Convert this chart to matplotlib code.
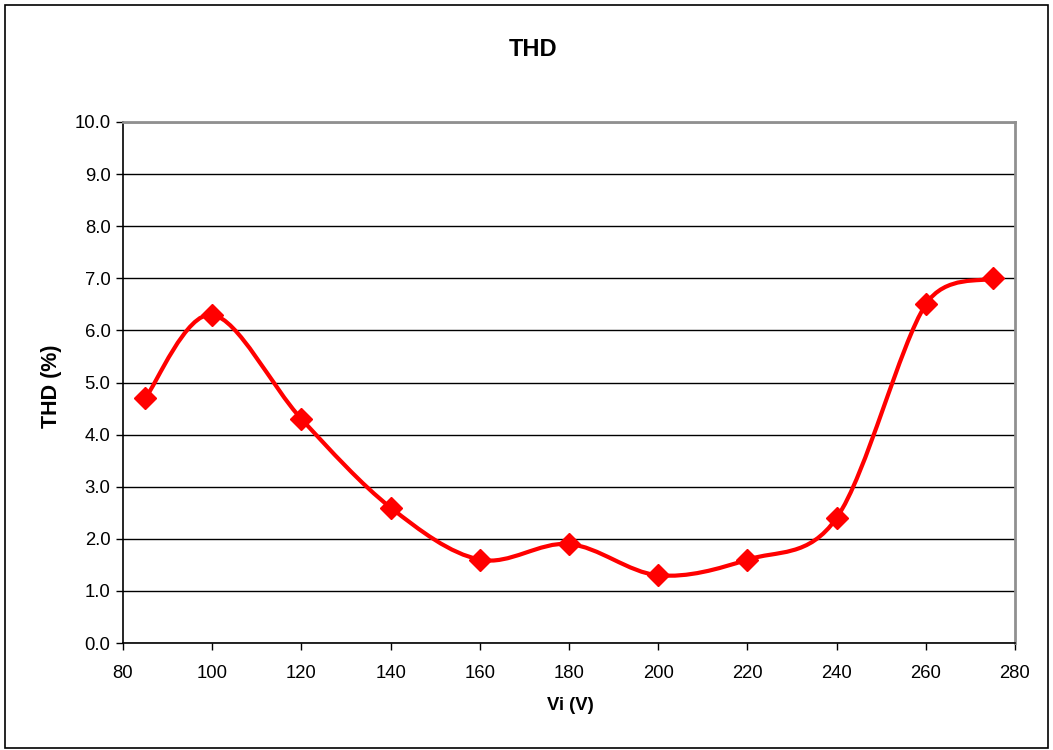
import numpy as np
import matplotlib.pyplot as plt
from matplotlib.path import Path
from matplotlib.patches import PathPatch, Rectangle

plt.rcParams['font.family'] = ['Liberation Sans', 'DejaVu Sans']

# 数据
vi = [85, 100, 120, 140, 160, 180, 200, 220, 240, 260, 275]
thd = [4.7, 6.3, 4.3, 2.6, 1.6, 1.9, 1.3, 1.6, 2.4, 6.5, 7.0]
x_ticks = [80, 100, 120, 140, 160, 180, 200, 220, 240, 260, 280]
y_ticks = [0, 1, 2, 3, 4, 5, 6, 7, 8, 9, 10]

fig = plt.figure(figsize=(10.53, 7.5), dpi=100)
ax = fig.add_axes([123/1053, 1-643/750, (1015-123)/1053, (643-122)/750])

# 外框
fig.patches.append(Rectangle((5/1053, 2/750), 1043/1053, 743/750, transform=fig.transFigure,
                             fill=False, edgecolor='black', linewidth=1.2))

ax.set_xlim(80, 280)
ax.set_ylim(0, 10)

# Excel 风格平滑曲线 (Bezier, 屏幕坐标下计算控制点)
pts = ax.transData.transform(np.column_stack([vi, thd]).astype(float))
n = len(pts)
f = 1 / 6


def ctrl(a, b, seg):
    # 切线长度不超过相邻线段的一半
    t = (b - a) * f
    lt = np.hypot(*t)
    ls = np.hypot(*seg) / 2
    if lt > ls and lt > 0:
        t = t * ls / lt
    return t


verts = [pts[0]]
codes = [Path.MOVETO]
for i in range(n - 1):
    p0 = pts[i - 1] if i > 0 else pts[i]
    p1 = pts[i]
    p2 = pts[i + 1]
    p3 = pts[i + 2] if i + 2 < n else pts[i + 1]
    c1 = p1 + ctrl(p0, p2, p2 - p1)
    c2 = p2 - ctrl(p1, p3, p2 - p1)
    verts += [c1, c2, p2]
    codes += [Path.CURVE4] * 3
verts = ax.transData.inverted().transform(np.array(verts))
ax.add_patch(PathPatch(Path(verts, codes), facecolor='none', edgecolor='red', linewidth=3, zorder=3))
ax.plot(vi, thd, linestyle='none', marker='D', markersize=11.5, color='red', zorder=4)

ax.set_xticks(x_ticks)
ax.set_yticks(y_ticks)
ax.set_yticklabels(['%.1f' % v for v in y_ticks])
ax.tick_params(labelsize=13.3, direction='out', length=5, width=1, color='black', pad=4)
ax.tick_params(axis='x', pad=11)
ax.grid(axis='y', color='black', linewidth=1)
ax.set_axisbelow(True)

for s in ['top', 'right']:
    ax.spines[s].set_color('#909090')
    ax.spines[s].set_linewidth(2)
for s in ['left', 'bottom']:
    ax.spines[s].set_color('black')
    ax.spines[s].set_linewidth(1.2)

fig.text(533/1053, 1-50/750, 'THD', ha='center', va='center', fontsize=17, fontweight='bold')
fig.text(570/1053, 1-705/750, 'Vi (V)', ha='center', va='center', fontsize=13.3, fontweight='bold')
fig.text(51/1053, 1-386/750, 'THD (%)', ha='center', va='center', rotation=90, fontsize=15.5, fontweight='bold')

plt.savefig('out.png', dpi=100)
